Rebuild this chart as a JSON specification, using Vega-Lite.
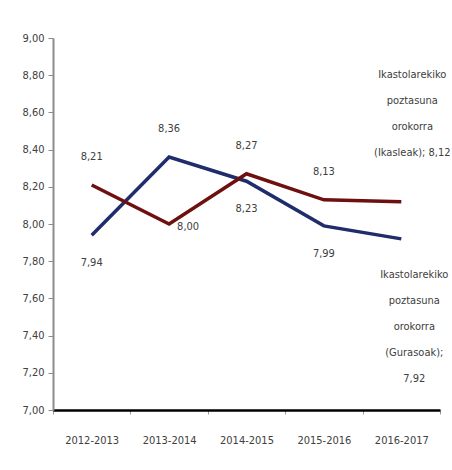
{
  "$schema": "https://vega.github.io/schema/vega-lite/v6.json",
  "autosize": "none",
  "width": 387,
  "height": 372,
  "padding": {"left": 53, "top": 38, "right": 12, "bottom": 60},
  "background": "white",
  "config": {
    "locale": {"number": {"decimal": ",", "thousands": ".", "grouping": [3], "currency": ["", " €"]}},
    "view": {"stroke": null},
    "font": "DejaVu Sans Condensed, Liberation Sans Narrow, sans-serif",
    "text": {"font": "DejaVu Sans Condensed, Liberation Sans Narrow, sans-serif", "fontSize": 11, "fill": "#404040"}
  },
  "data": {"values": [
    {"year": "2012-2013", "series": "Gurasoak", "value": 7.94},
    {"year": "2013-2014", "series": "Gurasoak", "value": 8.36},
    {"year": "2014-2015", "series": "Gurasoak", "value": 8.23},
    {"year": "2015-2016", "series": "Gurasoak", "value": 7.99},
    {"year": "2016-2017", "series": "Gurasoak", "value": 7.92},
    {"year": "2012-2013", "series": "Ikasleak", "value": 8.21},
    {"year": "2013-2014", "series": "Ikasleak", "value": 8.00},
    {"year": "2014-2015", "series": "Ikasleak", "value": 8.27},
    {"year": "2015-2016", "series": "Ikasleak", "value": 8.13},
    {"year": "2016-2017", "series": "Ikasleak", "value": 8.12}
  ]},
  "encoding": {
    "x": {"field": "year", "type": "nominal", "bandPosition": 0.5,
      "scale": {"type": "band", "paddingInner": 0, "paddingOuter": 0},
      "axis": {"title": null, "labelAngle": 0, "tickBand": "extent", "domainColor": "#000000", "domainWidth": 2.5,
        "tickColor": "#999999", "tickSize": 4, "labelPadding": 20, "labelFontSize": 11, "labelColor": "#404040",
        "labelFont": "DejaVu Sans Condensed, Liberation Sans Narrow, sans-serif"}},
    "y": {"field": "value", "type": "quantitative",
      "scale": {"domain": [7, 9], "nice": false, "zero": false},
      "axis": {"title": null, "values": [7, 7.2, 7.4, 7.6, 7.8, 8, 8.2, 8.4, 8.6, 8.8, 9], "format": ".2f", "grid": false,
        "domainColor": "#8c8c8c", "domainWidth": 2, "tickColor": "#8c8c8c", "tickSize": 5, "labelPadding": 4,
        "labelFontSize": 11, "labelColor": "#404040", "labelFont": "DejaVu Sans Condensed, Liberation Sans Narrow, sans-serif"}}
  },
  "layer": [
    {"mark": {"type": "line", "strokeWidth": 3.5},
      "encoding": {"color": {"field": "series", "type": "nominal", "legend": null,
        "scale": {"domain": ["Gurasoak", "Ikasleak"], "range": ["#1f2d6b", "#6e1010"]}}}},
    {"transform": [{"filter": "(datum.series == 'Ikasleak' && datum.year != '2013-2014' && datum.year != '2016-2017') || (datum.series == 'Gurasoak' && datum.year == '2013-2014')"}],
      "mark": {"type": "text", "dy": -28},
      "encoding": {"text": {"field": "value", "type": "quantitative", "format": ".2f"}}},
    {"transform": [{"filter": "datum.series == 'Gurasoak' && datum.year != '2013-2014' && datum.year != '2016-2017'"}],
      "mark": {"type": "text", "dy": 28},
      "encoding": {"text": {"field": "value", "type": "quantitative", "format": ".2f"}}},
    {"transform": [{"filter": "datum.series == 'Ikasleak' && datum.year == '2013-2014'"}],
      "mark": {"type": "text", "dx": 19, "dy": 3},
      "encoding": {"text": {"field": "value", "type": "quantitative", "format": ".2f"}}},
    {"transform": [{"filter": "datum.series == 'Ikasleak' && datum.year == '2016-2017'"}],
      "mark": {"type": "text", "dx": 11, "dy": -133, "baseline": "top", "lineHeight": 26,
        "text": ["Ikastolarekiko", "poztasuna", "orokorra", "(Ikasleak); 8,12"]},
      "encoding": {}},
    {"transform": [{"filter": "datum.series == 'Gurasoak' && datum.year == '2016-2017'"}],
      "mark": {"type": "text", "dx": 13, "dy": 30, "baseline": "top", "lineHeight": 26,
        "text": ["Ikastolarekiko", "poztasuna", "orokorra", "(Gurasoak);", "7,92"]},
      "encoding": {}}
  ]
}
